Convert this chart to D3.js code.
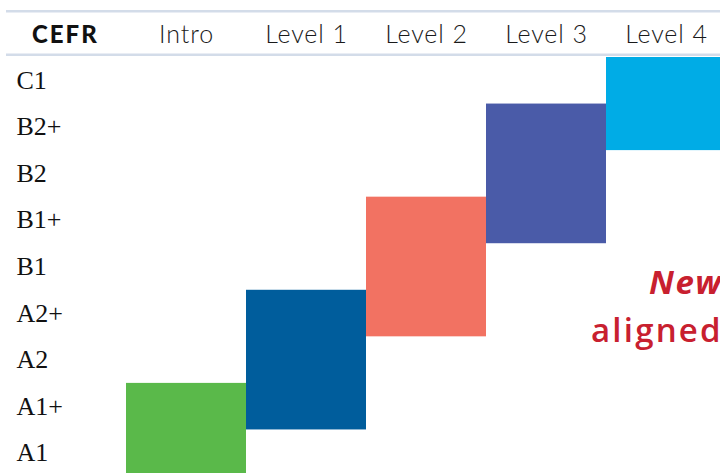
<!DOCTYPE html>
<html>
<head>
<meta charset="utf-8">
<script src="https://cdn.jsdelivr.net/npm/d3@7"></script>
<style>
  html, body { margin: 0; padding: 0; background: #fff; overflow: hidden; }
</style>
</head>
<body>
<div id="chart"></div>
<script>
// CEFR levels, bottom to top
const levels = ["A1", "A1+", "A2", "A2+", "B1", "B1+", "B2", "B2+", "C1"];
// course columns
const courses = ["Intro", "Level 1", "Level 2", "Level 3", "Level 4"];
// CEFR span covered by each course
const spanFrom = ["A1", "A1+", "A2+", "B1+", "B2+"];
const spanTo = ["A1+", "A2+", "B1+", "B2+", "C1"];
const colors = ["#5ab94a", "#005d9c", "#f27262", "#4a5ba8", "#00ace6"];

const width = 720, height = 473;

const svg = d3.select("#chart")
    .append("svg")
    .attr("width", width)
    .attr("height", height);

// Scales
const x = d3.scaleBand()
    .domain(courses)
    .range([126, 726]);

const y = d3.scaleBand()
    .domain(levels)
    .range([476, 57]);

// Blocks
svg.selectAll(".block")
    .data(courses)
    .enter()
    .append("rect")
    .attr("class", "block")
    .attr("x", d => x(d))
    .attr("width", x.bandwidth())
    .attr("y", (d, i) => y(spanTo[i]))
    .attr("height", (d, i) => y(spanFrom[i]) + y.bandwidth() - y(spanTo[i]))
    .attr("fill", (d, i) => colors[i]);

// Header rules
svg.append("rect")
    .attr("x", 6).attr("y", 10)
    .attr("width", width).attr("height", 2.5)
    .attr("fill", "#d3dce9");
svg.append("rect")
    .attr("x", 6).attr("y", 53.5)
    .attr("width", width).attr("height", 2.5)
    .attr("fill", "#d3dce9");

// Header labels
svg.append("text")
    .attr("x", 32)
    .attr("y", 43)
    .style("font-family", "Lato, sans-serif")
    .style("font-weight", 900)
    .style("font-size", "24px")
    .style("letter-spacing", "2px")
    .style("fill", "#111")
    .text("CEFR");

svg.selectAll(".course-label")
    .data(courses)
    .enter()
    .append("text")
    .attr("class", "course-label")
    .attr("x", d => x(d) + x.bandwidth() / 2 + 0.5)
    .attr("y", 43)
    .attr("text-anchor", "middle")
    .style("font-family", "Lato, sans-serif")
    .style("font-weight", 300)
    .style("font-size", "25px")
    .style("letter-spacing", "0.9px")
    .style("fill", "#1a1a1a")
    .text(d => d);

// CEFR row labels
svg.selectAll(".level-label")
    .data(levels)
    .enter()
    .append("text")
    .attr("class", "level-label")
    .attr("x", 16.5)
    .attr("y", d => y(d) + y.bandwidth() / 2 + 8.5)
    .style("font-family", "'Liberation Serif', serif")
    .style("font-size", "26px")
    .style("fill", "#111")
    .text(d => d);

// Callout text (runs off the right edge)
svg.append("text")
    .attr("x", 649)
    .attr("y", 294)
    .style("font-family", "'Open Sans', sans-serif")
    .style("font-weight", 700)
    .style("font-style", "italic")
    .style("font-size", "33px")
    .style("letter-spacing", "1.5px")
    .style("fill", "#c8202f")
    .text("New");

svg.append("text")
    .attr("x", 591)
    .attr("y", 342)
    .style("font-family", "'Open Sans', sans-serif")
    .style("font-weight", 600)
    .style("font-size", "33px")
    .style("letter-spacing", "2.2px")
    .style("fill", "#c8202f")
    .text("aligned");
</script>
</body>
</html>
